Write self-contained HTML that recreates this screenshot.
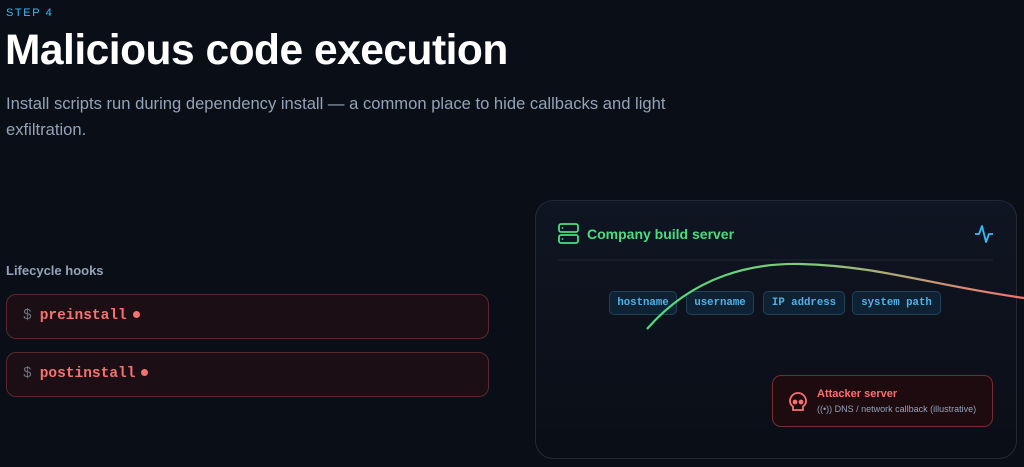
<!DOCTYPE html>
<html><head><style>
*{margin:0;padding:0;box-sizing:border-box}
body{width:1024px;height:467px;background:#0a0e16;font-family:"Liberation Sans",sans-serif;position:relative;overflow:hidden}
.a{position:absolute}
.hook{position:absolute;left:6px;width:483px;height:45px;border:1px solid #5a2930;background:#1b0e15;border-radius:10px;font-family:"Liberation Mono",monospace;font-size:14.5px;font-weight:bold;padding:13px 0 0 16px;color:#f87171}
.hook span.d{color:#6b7280;font-weight:normal;margin-right:8px}
.dot{display:inline-block;width:7px;height:7px;border-radius:50%;background:#f87171;margin-left:6px;vertical-align:1px}
.chip{position:absolute;top:291px;height:24px;border:1px solid #1f4257;background:#0e2233;border-radius:5px;color:#4fb3e8;font-family:"Liberation Mono",monospace;font-size:10.7px;font-weight:bold;text-align:center;line-height:22px}
</style></head><body>
<div class="a" style="left:6px;top:7px;color:#38bdf8;font-size:11px;letter-spacing:1.6px">STEP 4</div>
<div class="a" style="left:5px;top:27px;color:#fff;font-size:42.5px;font-weight:bold;letter-spacing:-0.5px">Malicious code execution</div>
<div class="a" style="left:6px;top:91px;width:720px;color:#94a3b8;font-size:16.6px;line-height:26px">Install scripts run during dependency install — a common place to hide callbacks and light exfiltration.</div>
<div class="a" style="left:6px;top:263px;color:#94a3b8;font-size:13px;font-weight:bold">Lifecycle hooks</div>
<div class="hook" style="top:294px"><span class="d">$</span>preinstall<span class="dot"></span></div>
<div class="hook" style="top:352px"><span class="d">$</span>postinstall<span class="dot"></span></div>

<div class="a" style="left:535px;top:200px;width:482px;height:259px;border:1px solid #222a38;border-radius:18px;background:linear-gradient(#0f1522,#0a0e16)"></div>
<div class="chip" style="left:609px;width:68px">hostname</div>
<div class="chip" style="left:686px;width:68px">username</div>
<div class="chip" style="left:763px;width:82px">IP address</div>
<div class="chip" style="left:852px;width:89px">system path</div>
<svg class="a" style="left:0;top:0" width="1024" height="467">
<defs><linearGradient id="g" x1="647" y1="0" x2="1024" y2="0" gradientUnits="userSpaceOnUse"><stop offset="0" stop-color="#4ade80"/><stop offset="0.45" stop-color="#86c97a"/><stop offset="1" stop-color="#f87171"/></linearGradient></defs>
<rect x="559" y="224" width="19" height="8" rx="2" fill="none" stroke="#4ade80" stroke-width="1.8"/>
<rect x="559" y="235" width="19" height="8" rx="2" fill="none" stroke="#4ade80" stroke-width="1.8"/>
<circle cx="562.5" cy="228" r="0.9" fill="#4ade80"/><circle cx="562.5" cy="239" r="0.9" fill="#4ade80"/>
<polyline points="975,234 979,234 982,226 986,242 989,234 993,234" fill="none" stroke="#38bdf8" stroke-width="1.8" stroke-linejoin="round"/>
<line x1="558" y1="260" x2="993" y2="260" stroke="#1e2533" stroke-width="1"/>
<path d="M647,329 C695,274 755,263 800,264 C880,266 930,285 1024,298" fill="none" stroke="url(#g)" stroke-width="2.2"/>
</svg>
<div class="a" style="left:587px;top:226px;color:#4ade80;font-size:14px;font-weight:bold">Company build server</div>

<div class="a" style="left:772px;top:375px;width:221px;height:52px;border:1px solid #7a2c30;background:#1e0b10;border-radius:9px"></div>
<svg class="a" style="left:786px;top:390px" width="24" height="24" viewBox="0 0 24 24" fill="none" stroke="#f87171" stroke-width="1.8"><path d="M12 3a8 8 0 0 0-8 8c0 3 1.5 4.5 3 5.5V20h10v-3.5c1.5-1 3-2.5 3-5.5a8 8 0 0 0-8-8z"/><circle cx="9" cy="12" r="1.5" fill="#f87171"/><circle cx="15" cy="12" r="1.5" fill="#f87171"/></svg>
<div class="a" style="left:817px;top:388px;color:#f87171;font-size:11px;font-weight:bold">Attacker server</div>
<div class="a" style="left:817px;top:404px;color:#94a3b8;font-size:9px">((•)) DNS / network callback (illustrative)</div>
</body></html>
